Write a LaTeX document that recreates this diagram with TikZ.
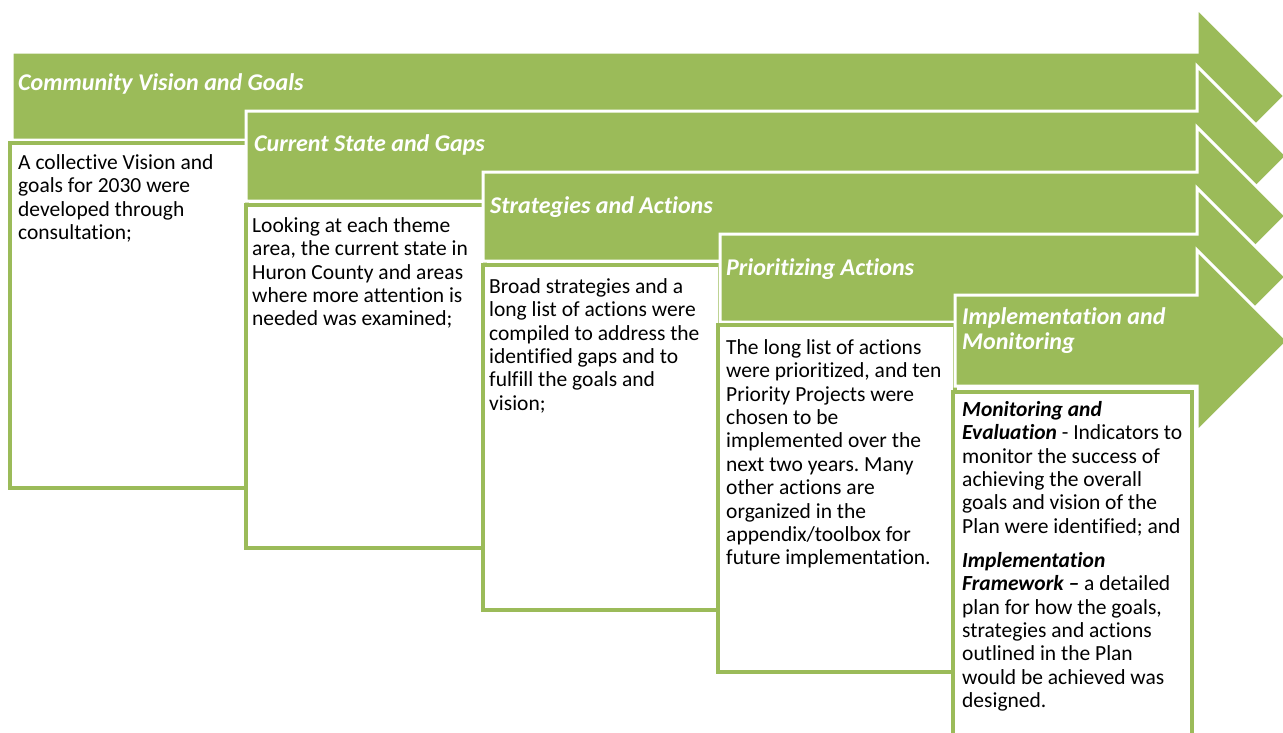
\documentclass[tikz,border=0pt]{standalone}
\usepackage{fontspec}
\setmainfont[Ligatures={NoCommon}]{Carlito}
\definecolor{olivegreen}{HTML}{9BBB59}
\newcommand{\firststrut}{\rule{0pt}{18pt}}
\frenchspacing
\begin{document}
\begin{tikzpicture}[x={(1pt,0pt)},y={(0pt,-1pt)},
  arrowshape/.style={fill=olivegreen, draw=white, line width=3pt, line join=miter},
  textbox/.style={fill=white, draw=olivegreen, line width=4pt},
  headtext/.style={text=white, font=\fontsize{24}{25}\selectfont\bfseries\itshape\frenchspacing, anchor=base west, inner sep=0pt, align=left},
  headtwo/.style={text=white, font=\fontsize{24}{25}\selectfont\bfseries\itshape\frenchspacing, anchor=north west, inner sep=0pt, align=left},
  bodytext/.style={font=\fontsize{21.5}{23.4}\selectfont\frenchspacing, anchor=north west, inner sep=0pt, align=left, text=black}]
\clip (0,0) rectangle (1283,732);
\fill[white] (0,0) rectangle (1283,732);
% arrow 1
\filldraw[arrowshape] (12,52) -- (1197,52) -- (1197,8) -- (1285,96) -- (1197,184) -- (1197,140) -- (12,140) -- cycle;
\node[headtext] (h1) at (18,90) {Community Vision and Goals};
\draw[textbox] (10,143) rectangle (247,488);
\node[bodytext] (t1) at (18,151) {\firststrut A collective Vision and\\goals for 2030 were\\developed through\\consultation;};
% arrow 2
\filldraw[arrowshape] (246,111) -- (1197,111) -- (1197,66) -- (1287,156) -- (1197,246) -- (1197,201) -- (246,201) -- cycle;
\node[headtext] (h2) at (254,151) {Current State and Gaps};
\draw[textbox] (246,205) rectangle (485,548);
\node[bodytext] (t2) at (252,214) {\firststrut Looking at each theme\\area, the current state in\\Huron County and areas\\where more attention is\\needed was examined;};
% arrow 3
\filldraw[arrowshape] (483,172) -- (1197,172) -- (1197,127) -- (1286,216) -- (1197,305) -- (1197,261) -- (483,261) -- cycle;
\node[headtext] (h3) at (490,213) {Strategies and Actions};
\draw[textbox] (483,265) rectangle (720,610);
\node[bodytext] (t3) at (489,275) {\firststrut Broad strategies and a\\long list of actions were\\compiled to address the\\identified gaps and to\\fulfill the goals and\\vision;};
% arrow 4
\filldraw[arrowshape] (720,234) -- (1197,234) -- (1197,188) -- (1286,277) -- (1197,366) -- (1197,322) -- (720,322) -- cycle;
\node[headtext] (h4) at (726,275) {Prioritizing Actions};
\draw[textbox] (718,325) rectangle (955,672);
\node[bodytext] (t4) at (726,336) {\firststrut The long list of actions\\were prioritized, and ten\\Priority Projects were\\chosen to be\\implemented over the\\next two years. Many\\other actions are\\organized in the\\appendix/toolbox for\\future implementation.};
% arrow 5
\filldraw[arrowshape] (955,295) -- (1197,295) -- (1197,250) -- (1288,341) -- (1197,432) -- (1197,386) -- (955,386) -- cycle;
\node[headtwo] (h5) at (962,306) {\firststrut Implementation and\\Monitoring};
\draw[textbox] (953,392) rectangle (1192,745);
\node[bodytext] (t5) at (962,398) {\firststrut\textbf{\textit{Monitoring and}}\\\textbf{\textit{Evaluation}} - Indicators to\\monitor the success of\\achieving the overall\\goals and vision of the\\Plan were identified; and\\[10.6pt]\textbf{\textit{Implementation}}\\\textbf{\textit{Framework –}} a detailed\\plan for how the goals,\\strategies and actions\\outlined in the Plan\\would be achieved was\\designed.};
\end{tikzpicture}
\end{document}
